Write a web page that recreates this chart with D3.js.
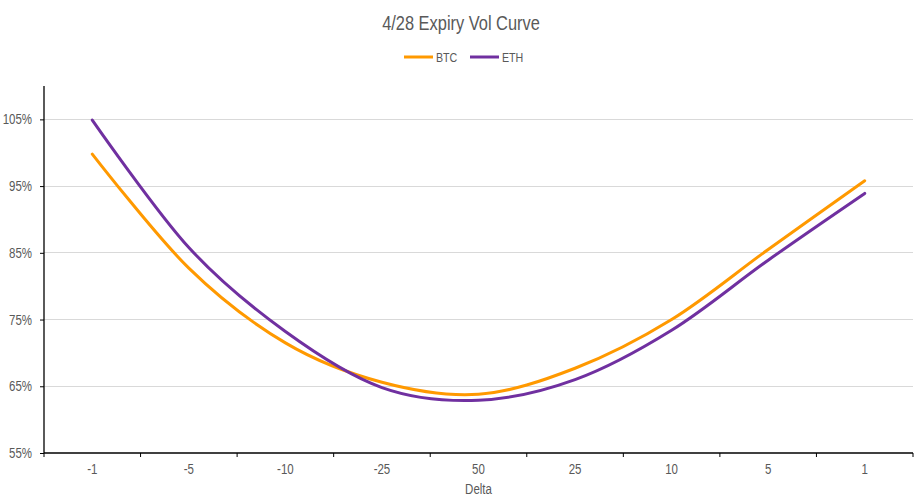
<!DOCTYPE html>
<html>
<head>
<meta charset="utf-8">
<script src="https://cdn.jsdelivr.net/npm/d3@7"></script>
<style>
  html, body { margin: 0; padding: 0; background: #fff; }
  svg { display: block; }
  text { font-family: "Liberation Sans Narrow", "Arial Narrow", "Liberation Sans", Arial, sans-serif; fill: #595959; }
</style>
</head>
<body>
<svg id="chart" width="922" height="499"></svg>
<script>
const categories = ["-1", "-5", "-10", "-25", "50", "25", "10", "5", "1"];
const btc = [0.998, 0.827, 0.715, 0.656, 0.638, 0.677, 0.750, 0.855, 0.958];
const eth = [1.049, 0.858, 0.732, 0.648, 0.629, 0.660, 0.734, 0.839, 0.939];
const seriesNames = ["BTC", "ETH"];
const seriesColors = ["#FF9900", "#7030A0"];
const yTicks = [0.55, 0.65, 0.75, 0.85, 0.95, 1.05];
const yMin = 0.55, yMax = 1.10;

const svg = d3.select("#chart");
const mLeft = 44, mRight = 913, mTop = 86, mBottom = 453;

const x = d3.scaleBand().domain(categories).range([mLeft, mRight]).padding(0);
const y = d3.scaleLinear().domain([yMin, yMax]).range([mBottom, mTop]);

// Gridlines
svg.append("g").selectAll("line")
  .data(yTicks.filter(t => t > yMin))
  .join("line")
  .attr("x1", mLeft).attr("x2", mRight)
  .attr("y1", d => y(d)).attr("y2", d => y(d))
  .attr("stroke", "#d9d9d9").attr("stroke-width", 1)
  .attr("shape-rendering", "crispEdges");

// Y axis
const yAxis = svg.append("g").attr("transform", `translate(${mLeft},0)`)
  .call(d3.axisLeft(y).tickValues(yTicks).tickSize(4).tickPadding(8).tickFormat(d3.format(".0%")));
yAxis.select(".domain").remove();
yAxis.selectAll(".tick line").attr("stroke", "#000");
yAxis.selectAll(".tick text").style("font-size", "14px").attr("fill", "#595959");
svg.append("line").attr("x1", mLeft).attr("x2", mLeft).attr("y1", y(yMax)).attr("y2", y(yMin))
  .attr("stroke", "#000").attr("stroke-width", 1.3);

// X axis
const xAxis = svg.append("g").attr("transform", `translate(0,${mBottom})`)
  .call(d3.axisBottom(x).tickSize(0).tickPadding(11));
xAxis.select(".domain").remove();
xAxis.selectAll(".tick text").style("font-size", "14px").attr("fill", "#595959");
const boundaries = categories.map(c => x(c)).concat([x.range()[1]]);
svg.append("g").selectAll("line").data(boundaries).join("line")
  .attr("x1", d => d).attr("x2", d => d)
  .attr("y1", mBottom).attr("y2", mBottom + 4)
  .attr("stroke", "#000").attr("stroke-width", 1);
svg.append("line").attr("x1", mLeft).attr("x2", mRight).attr("y1", mBottom).attr("y2", mBottom)
  .attr("stroke", "#000").attr("stroke-width", 1.3);

svg.append("text").attr("x", (mLeft + mRight) / 2).attr("y", 494)
  .attr("text-anchor", "middle").style("font-size", "14px").text("Delta");

// Lines
const line = d3.line()
  .x((d, i) => x(categories[i]) + x.bandwidth() / 2)
  .y(d => y(d))
  .curve(d3.curveCardinal.tension(0));

[btc, eth].forEach((s, i) => {
  svg.append("path").datum(s)
    .attr("d", line)
    .attr("fill", "none")
    .attr("stroke", seriesColors[i])
    .attr("stroke-width", 3)
    .attr("stroke-linecap", "round");
});

// Title
svg.append("text").attr("x", 461).attr("y", 30)
  .attr("text-anchor", "middle").style("font-size", "20px").text("4/28 Expiry Vol Curve");

// Legend
const legendX = [404, 470];
seriesNames.forEach((n, i) => {
  svg.append("line").attr("x1", legendX[i]).attr("x2", legendX[i] + 29)
    .attr("y1", 57).attr("y2", 57)
    .attr("stroke", seriesColors[i]).attr("stroke-width", 3);
  svg.append("text").attr("x", legendX[i] + 32).attr("y", 62)
    .style("font-size", "13px").text(n);
});

// Condense text to mimic a narrow face (no narrow font installed)
svg.selectAll("text").each(function () {
  const len = this.getComputedTextLength();
  if (len > 0) {
    d3.select(this).attr("textLength", len * 0.82).attr("lengthAdjust", "spacingAndGlyphs");
  }
});
</script>
</body>
</html>
